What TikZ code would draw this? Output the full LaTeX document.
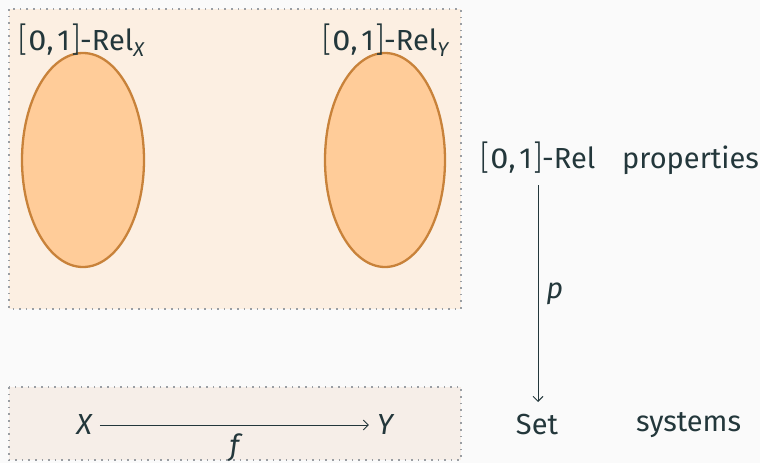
\documentclass[tikz,border=0pt]{standalone}
\usepackage{fontspec}
\setmainfont{Fira Sans}
\newfontfamily\thinfont{Fira Sans Light}
\usetikzlibrary{arrows.meta,shapes.geometric}
\definecolor{bg}{HTML}{FAFAFA}
\definecolor{txt}{HTML}{23373B}
\definecolor{boxA}{HTML}{FCEFE2}
\definecolor{boxB}{HTML}{F6EEE8}
\definecolor{ellF}{HTML}{FFCC99}
\definecolor{ellD}{HTML}{C8823A}
\definecolor{dotc}{HTML}{9A9EA3}
\newcommand{\mysub}[1]{\raisebox{-0.4ex}{\fontsize{20}{22}\selectfont\itshape #1}}
\newcommand{\lb}{\raisebox{-0.12ex}{\scalebox{1}[1.18]{\thinfont[}}}
\newcommand{\rb}{\raisebox{-0.12ex}{\scalebox{1}[1.18]{\thinfont]}}}
\newcommand{\unitint}{\lb\kern1pt\scalebox{1.12}[1]{0},\kern4pt1\kern1pt\rb}
\tikzset{
  lbl/.style={text=txt, font=\fontsize{29}{32}\selectfont, inner sep=0pt},
  panel/.style={draw=dotc, line width=1.6pt, dash pattern=on 1.6pt off 5pt},
  blob/.style={draw=ellD, fill=ellF, line width=2.3pt},
  arr/.style={draw=txt, line width=0.9pt, -{Straight Barb[length=5pt,width=10pt]}}
}
\begin{document}
\begin{tikzpicture}[x=1pt,y=-1pt]
\useasboundingbox[fill=bg] (0,0) rectangle (760,463);
\path[fill=boxA] (9,9) rectangle (461,309);
\draw[panel] (9,9) rectangle (461,309);
\path[fill=boxB] (9,387) rectangle (461,460);
\draw[panel] (9,387) rectangle (461,460);
\node[blob, ellipse, minimum width=122pt, minimum height=214pt] (ex) at (83,160) {};
\node[blob, ellipse, minimum width=120pt, minimum height=214pt] (ey) at (385,160) {};
\node[lbl, anchor=base west] (lx) at (18,50) {\unitint-Rel\mysub{X}};
\node[lbl, anchor=base west] (ly) at (322,50) {\unitint-Rel\mysub{Y}};
\node[lbl, anchor=base west] (rel) at (480,168) {\unitint-Rel};
\node[lbl, anchor=base west] (prop) at (622,168) {properties};
\node[lbl, anchor=base] (set) at (537,434) {Set};
\node[lbl, anchor=base west] (sys) at (636,431) {systems};
\node[lbl] (X) at (84,425) {\itshape X};
\node[lbl] (Y) at (385,425) {\itshape Y};
\coordinate (ptop) at (538,185);
\coordinate (pbot) at (538,402);
\draw[arr] (ptop) -- node[lbl, right=8pt, pos=0.5] (p) {\itshape p} (pbot);
\path (X.east) ++(8,0) coordinate (xs) (Y.west) ++(-8,0) coordinate (ye);
\draw[arr] (xs) -- node[lbl, below=8pt] (f) {\itshape f} (ye);
\end{tikzpicture}
\end{document}
